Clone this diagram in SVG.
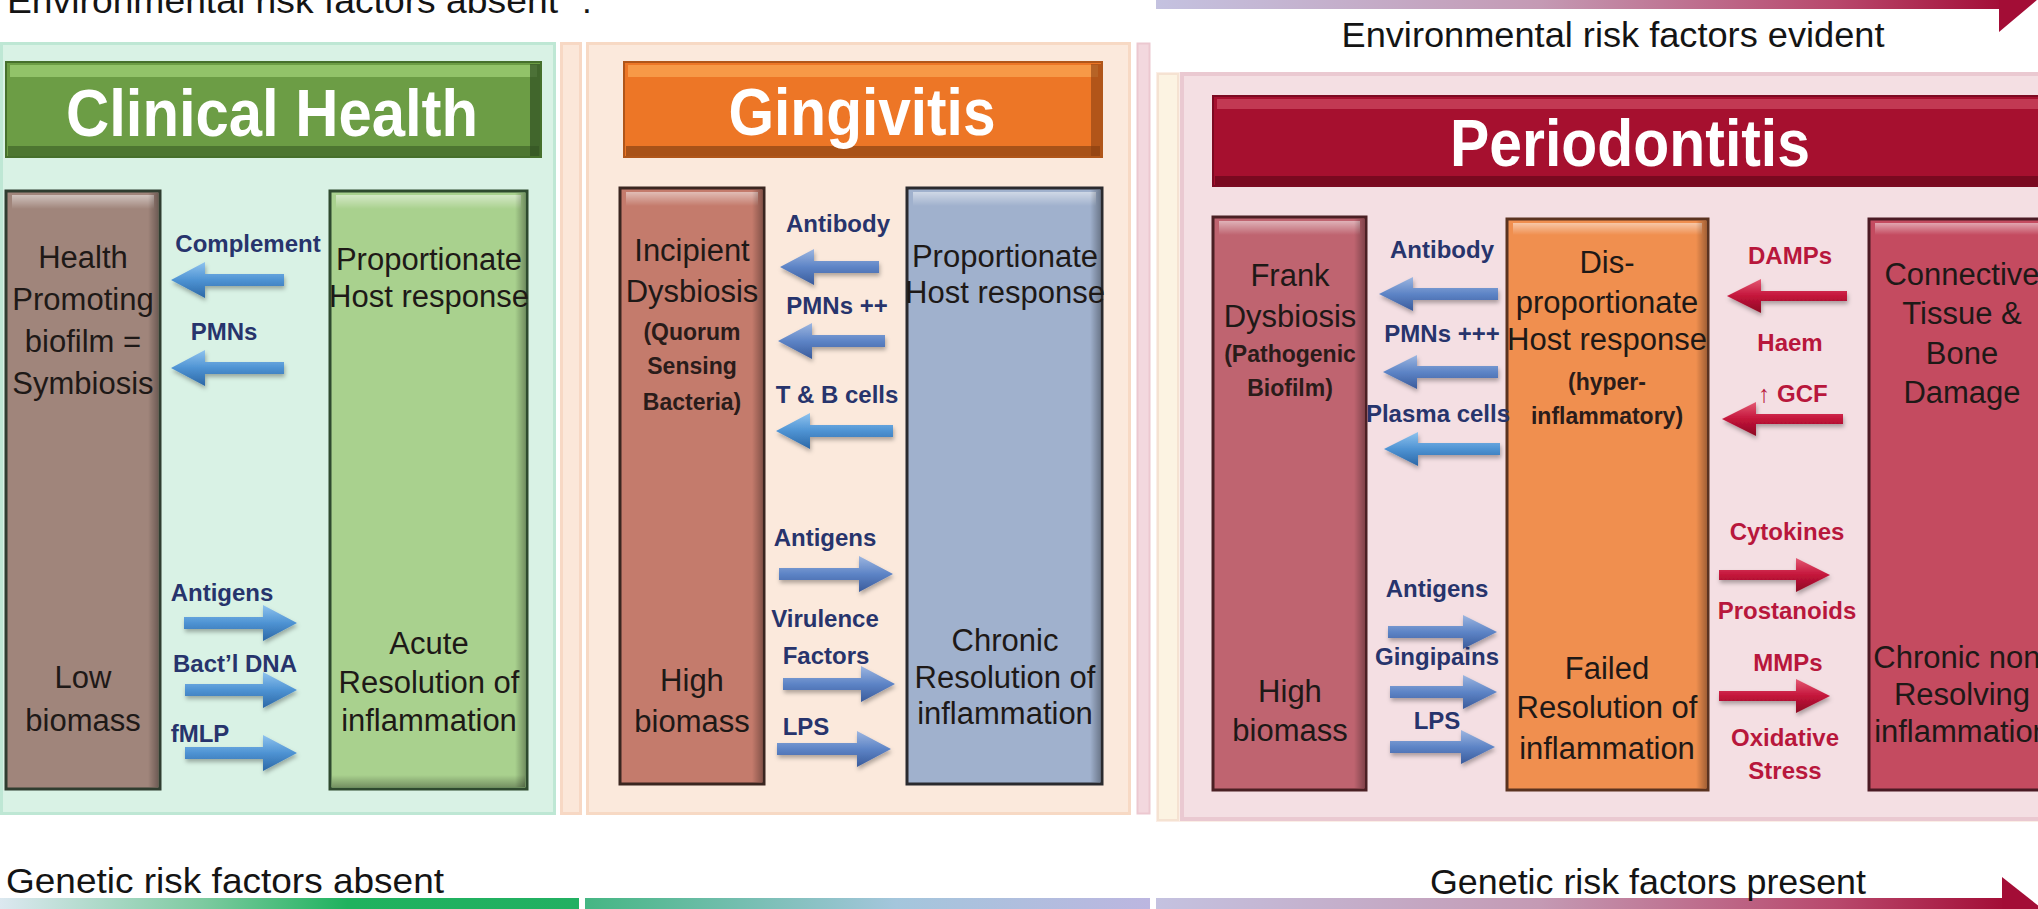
<svg xmlns="http://www.w3.org/2000/svg" width="2038" height="909" viewBox="0 0 2038 909">
<defs>
<linearGradient id="hiTop" x1="0" y1="0" x2="0" y2="1"><stop offset="0" stop-color="#fff" stop-opacity="0.5"/><stop offset="1" stop-color="#fff" stop-opacity="0"/></linearGradient>
<linearGradient id="shR" x1="0" y1="0" x2="1" y2="0"><stop offset="0" stop-color="#000" stop-opacity="0"/><stop offset="1" stop-color="#000" stop-opacity="0.3"/></linearGradient>
<linearGradient id="shB" x1="0" y1="0" x2="0" y2="1"><stop offset="0" stop-color="#000" stop-opacity="0"/><stop offset="1" stop-color="#000" stop-opacity="0.3"/></linearGradient>
<linearGradient id="blue1" x1="0" y1="0" x2="0" y2="1"><stop offset="0" stop-color="#8fc3ee"/><stop offset="0.5" stop-color="#4e93d3"/><stop offset="1" stop-color="#2c67a6"/></linearGradient>
<linearGradient id="blue2" x1="0" y1="0" x2="0" y2="1"><stop offset="0" stop-color="#9db6e0"/><stop offset="0.5" stop-color="#5d84c6"/><stop offset="1" stop-color="#3a5b9b"/></linearGradient>
<linearGradient id="red1" x1="0" y1="0" x2="0" y2="1"><stop offset="0" stop-color="#e45a74"/><stop offset="0.5" stop-color="#c4143a"/><stop offset="1" stop-color="#8c0a24"/></linearGradient>
<linearGradient id="barL" x1="0" y1="0" x2="1" y2="0"><stop offset="0" stop-color="#dce8f0"/><stop offset="0.35" stop-color="#7dcaa0"/><stop offset="0.6" stop-color="#1fb25e"/><stop offset="1" stop-color="#22b062"/></linearGradient>
<linearGradient id="barM" x1="0" y1="0" x2="1" y2="0"><stop offset="0" stop-color="#45b683"/><stop offset="0.55" stop-color="#a4c6dc"/><stop offset="1" stop-color="#bcb6e0"/></linearGradient>
<linearGradient id="barR" x1="0" y1="0" x2="1" y2="0"><stop offset="0" stop-color="#c4c2e0"/><stop offset="0.45" stop-color="#c49ab4"/><stop offset="0.8" stop-color="#b8486c"/><stop offset="1" stop-color="#a30d36"/></linearGradient>
<filter id="sh" x="-10%" y="-30%" width="130%" height="180%"><feDropShadow dx="1" dy="3" stdDeviation="2" flood-color="#000" flood-opacity="0.3"/></filter>
</defs>
<style>
text { font-family: "Liberation Sans", Arial, sans-serif; }
.hdr { font-weight: bold; fill: #ffffff; font-size: 66px; text-anchor: middle; }
.bx { font-size: 31px; fill: #1e1917; text-anchor: middle; }
.sub { font-size: 23px; font-weight: bold; fill: #2a1c1a; text-anchor: middle; }
.lb { font-size: 24px; font-weight: bold; fill: #27346c; text-anchor: middle; }
.lr { font-size: 24px; font-weight: bold; fill: #b8173c; text-anchor: middle; }
.side { font-size: 35px; fill: #141414; }
.a1 { fill: url(#blue1); filter: url(#sh); }
.a2 { fill: url(#blue2); filter: url(#sh); }
.ar { fill: url(#red1); filter: url(#sh); }
.hi { fill: url(#hiTop); }
.sr { fill: url(#shR); }
.sb { fill: url(#shB); }
</style>
<rect width="2038" height="909" fill="#ffffff"/>

<g id="backgrounds">
  <rect x="1.5" y="43.5" width="553" height="770" fill="#d9f2e5" stroke="#bee7d4" stroke-width="3"/>
  <rect x="561.5" y="43.5" width="19" height="770" fill="#fbe7d9" stroke="#f7d8c4" stroke-width="3"/>
  <rect x="587.5" y="43.5" width="542" height="770" fill="#fbe9dc" stroke="#f7d9c4" stroke-width="3"/>
  <rect x="1137.5" y="43.5" width="12" height="770" fill="#f3d8de" stroke="#ecc8d0" stroke-width="2"/>
  <rect x="1156" y="72" width="890" height="750" fill="#fbeee6"/>
  <rect x="1158" y="74" width="20" height="746" fill="#fcf3e2" stroke="#f5e2d2" stroke-width="2"/>
  <rect x="1182" y="74" width="870" height="745" fill="#f4dfe3" stroke="#eac9d1" stroke-width="4"/>
</g>

<g id="risk-bars">
  <rect x="0" y="898" width="579" height="11" fill="url(#barL)"/>
  <rect x="585" y="898" width="565" height="11" fill="url(#barM)"/>
  <rect x="1156" y="898" width="850" height="11" fill="url(#barR)"/>
  <polygon points="2002,877 2050,915 2002,953" fill="#a30d36"/>
  <rect x="1156" y="-10" width="850" height="19" fill="url(#barR)"/>
  <polygon points="1999,-44 2044,-6 1999,32" fill="#a30d36"/>
  <text class="side" x="7" y="13" textLength="551" lengthAdjust="spacingAndGlyphs">Environmental risk factors absent</text>
  <text class="side" x="582" y="13">.</text>
  <text class="side" x="1613" y="47" font-size="33" text-anchor="middle" textLength="543" lengthAdjust="spacingAndGlyphs">Environmental risk factors evident</text>
  <text class="side" x="6" y="893" textLength="438" lengthAdjust="spacingAndGlyphs">Genetic risk factors absent</text>
  <text class="side" x="1648" y="894" font-size="33" text-anchor="middle" textLength="436" lengthAdjust="spacingAndGlyphs">Genetic risk factors present</text>
</g>

<g id="header-clinical-health">
  <rect x="6" y="62" width="535" height="95" fill="#6c9d45" stroke="#46702c" stroke-width="2"/>
  <rect x="10" y="65" width="527" height="12" fill="#9ccd72" opacity="0.8"/>
  <rect x="8" y="146" width="531" height="10" fill="#4d7631"/>
  <rect x="530" y="64" width="10" height="92" fill="#2f4f22" opacity="0.7"/>
  <text class="hdr" x="272" y="136" textLength="412" lengthAdjust="spacingAndGlyphs">Clinical Health</text>
</g>

<g id="header-gingivitis">
  <rect x="624" y="62" width="478" height="95" fill="#ed7626" stroke="#b0561a" stroke-width="2"/>
  <rect x="628" y="65" width="470" height="12" fill="#f8a04e" opacity="0.85"/>
  <rect x="626" y="146" width="474" height="10" fill="#a85218"/>
  <rect x="1091" y="64" width="10" height="92" fill="#8a4010" opacity="0.6"/>
  <text class="hdr" x="862" y="135" font-size="64" textLength="267" lengthAdjust="spacingAndGlyphs">Gingivitis</text>
</g>

<g id="header-periodontitis">
  <rect x="1213" y="96" width="840" height="90" fill="#a6102f" stroke="#7c0a22" stroke-width="2"/>
  <rect x="1217" y="99" width="830" height="10" fill="#c9435c" opacity="0.8"/>
  <rect x="1215" y="176" width="834" height="9" fill="#7a0920"/>
  <text class="hdr" x="1630" y="166" textLength="360" lengthAdjust="spacingAndGlyphs">Periodontitis</text>
</g>

<g id="node-health-biofilm">
  <rect x="6" y="191" width="154" height="598" fill="#a0857b" stroke="#2f3d30" stroke-width="3"/>
  <rect x="12" y="195" width="142" height="14" class="hi"/>
  <rect x="148" y="193" width="10" height="594" class="sr"/>
  <text class="bx" x="83" y="268">Health</text>
  <text class="bx" x="83" y="310">Promoting</text>
  <text class="bx" x="83" y="352">biofilm =</text>
  <text class="bx" x="83" y="394">Symbiosis</text>
  <text class="bx" x="83" y="688">Low</text>
  <text class="bx" x="83" y="731">biomass</text>
</g>

<g id="node-proportionate-health">
  <rect x="330" y="191" width="197" height="598" fill="#a9d18e" stroke="#2f4a2f" stroke-width="3"/>
  <rect x="336" y="195" width="185" height="14" class="hi"/>
  <rect x="515" y="193" width="10" height="594" class="sr"/>
  <rect x="332" y="775" width="193" height="12" class="sb"/>
  <text class="bx" x="429" y="270">Proportionate</text>
  <text class="bx" x="429" y="307">Host response</text>
  <text class="bx" x="429" y="654">Acute</text>
  <text class="bx" x="429" y="693">Resolution of</text>
  <text class="bx" x="429" y="731">inflammation</text>
</g>

<g id="node-incipient-dysbiosis">
  <rect x="620" y="188" width="144" height="596" fill="#c47b6c" stroke="#3a2620" stroke-width="3"/>
  <rect x="626" y="192" width="132" height="14" class="hi"/>
  <rect x="752" y="190" width="10" height="592" class="sr"/>
  <text class="bx" x="692" y="261">Incipient</text>
  <text class="bx" x="692" y="302">Dysbiosis</text>
  <text class="sub" x="692" y="340">(Quorum</text>
  <text class="sub" x="692" y="374">Sensing</text>
  <text class="sub" x="692" y="410">Bacteria)</text>
  <text class="bx" x="692" y="691">High</text>
  <text class="bx" x="692" y="732">biomass</text>
</g>

<g id="node-proportionate-gingivitis">
  <rect x="907" y="188" width="195" height="596" fill="#a0b1cd" stroke="#2a2a2e" stroke-width="3"/>
  <rect x="913" y="192" width="183" height="14" class="hi"/>
  <rect x="1090" y="190" width="10" height="592" class="sr"/>
  <text class="bx" x="1005" y="267">Proportionate</text>
  <text class="bx" x="1005" y="303">Host response</text>
  <text class="bx" x="1005" y="651">Chronic</text>
  <text class="bx" x="1005" y="688">Resolution of</text>
  <text class="bx" x="1005" y="724">inflammation</text>
</g>

<g id="node-frank-dysbiosis">
  <rect x="1213" y="217" width="153" height="573" fill="#bf6470" stroke="#4a2024" stroke-width="3"/>
  <rect x="1219" y="221" width="141" height="14" class="hi"/>
  <rect x="1354" y="219" width="10" height="569" class="sr"/>
  <text class="bx" x="1290" y="286">Frank</text>
  <text class="bx" x="1290" y="327">Dysbiosis</text>
  <text class="sub" x="1290" y="362">(Pathogenic</text>
  <text class="sub" x="1290" y="396">Biofilm)</text>
  <text class="bx" x="1290" y="702">High</text>
  <text class="bx" x="1290" y="741">biomass</text>
</g>

<g id="node-disproportionate">
  <rect x="1507" y="219" width="201" height="571" fill="#f08f4f" stroke="#5a3320" stroke-width="3"/>
  <rect x="1513" y="223" width="189" height="12" class="hi"/>
  <rect x="1696" y="221" width="10" height="567" class="sr"/>
  <text class="bx" x="1607" y="273">Dis-</text>
  <text class="bx" x="1607" y="313">proportionate</text>
  <text class="bx" x="1607" y="350">Host response</text>
  <text class="sub" x="1607" y="390">(hyper-</text>
  <text class="sub" x="1607" y="424">inflammatory)</text>
  <text class="bx" x="1607" y="679">Failed</text>
  <text class="bx" x="1607" y="718">Resolution of</text>
  <text class="bx" x="1607" y="759">inflammation</text>
</g>

<g id="node-tissue-damage">
  <rect x="1869" y="219" width="185" height="571" fill="#c44b60" stroke="#4a1a24" stroke-width="3"/>
  <rect x="1875" y="223" width="175" height="12" class="hi"/>
  <text class="bx" x="1962" y="285">Connective</text>
  <text class="bx" x="1962" y="324">Tissue &amp;</text>
  <text class="bx" x="1962" y="364">Bone</text>
  <text class="bx" x="1962" y="403">Damage</text>
  <text class="bx" x="1962" y="668">Chronic non-</text>
  <text class="bx" x="1962" y="705">Resolving</text>
  <text class="bx" x="1962" y="742">inflammation</text>
</g>

<g id="connectors">
  <path class="a1" d="M171 280 L205 262 L205 274 L284 274 L284 286 L205 286 L205 298 Z"/>
  <path class="a1" d="M171 368 L205 350 L205 362 L284 362 L284 374 L205 374 L205 386 Z"/>
  <path class="a1" d="M297 623 L263 605 L263 617 L184 617 L184 629 L263 629 L263 641 Z"/>
  <path class="a1" d="M297 690 L263 672 L263 684 L185 684 L185 696 L263 696 L263 708 Z"/>
  <path class="a1" d="M297 753 L263 735 L263 747 L185 747 L185 759 L263 759 L263 771 Z"/>

  <path class="a2" d="M780 267 L814 249 L814 261 L879 261 L879 273 L814 273 L814 285 Z"/>
  <path class="a2" d="M778 341 L812 323 L812 335 L885 335 L885 347 L812 347 L812 359 Z"/>
  <path class="a1" d="M776 431 L810 413 L810 425 L893 425 L893 437 L810 437 L810 449 Z"/>
  <path class="a2" d="M893 574 L859 556 L859 568 L779 568 L779 580 L859 580 L859 592 Z"/>
  <path class="a2" d="M895 684 L861 666 L861 678 L783 678 L783 690 L861 690 L861 702 Z"/>
  <path class="a2" d="M891 749 L857 731 L857 743 L777 743 L777 755 L857 755 L857 767 Z"/>

  <path class="a2" d="M1379 294 L1413 277 L1413 288 L1498 288 L1498 300 L1413 300 L1413 311 Z"/>
  <path class="a2" d="M1383 372 L1417 355 L1417 366 L1498 366 L1498 378 L1417 378 L1417 389 Z"/>
  <path class="a1" d="M1384 449 L1418 432 L1418 443 L1500 443 L1500 455 L1418 455 L1418 466 Z"/>
  <path class="a2" d="M1497 632 L1463 615 L1463 626 L1388 626 L1388 638 L1463 638 L1463 649 Z"/>
  <path class="a2" d="M1497 692 L1463 675 L1463 686 L1390 686 L1390 698 L1463 698 L1463 709 Z"/>
  <path class="a2" d="M1495 747 L1461 730 L1461 741 L1390 741 L1390 753 L1461 753 L1461 764 Z"/>

  <path class="ar" d="M1727 296 L1761 279 L1761 291 L1847 291 L1847 301 L1761 301 L1761 313 Z"/>
  <path class="ar" d="M1722 419 L1756 402 L1756 414 L1843 414 L1843 424 L1756 424 L1756 436 Z"/>
  <path class="ar" d="M1830 575 L1796 558 L1796 570 L1719 570 L1719 580 L1796 580 L1796 592 Z"/>
  <path class="ar" d="M1830 696 L1796 679 L1796 691 L1719 691 L1719 701 L1796 701 L1796 713 Z"/>

  <text class="lb" x="248" y="252">Complement</text>
  <text class="lb" x="224" y="340">PMNs</text>
  <text class="lb" x="222" y="601">Antigens</text>
  <text class="lb" x="235" y="672">Bact’l DNA</text>
  <text class="lb" x="200" y="742">fMLP</text>

  <text class="lb" x="838" y="232">Antibody</text>
  <text class="lb" x="837" y="314">PMNs ++</text>
  <text class="lb" x="837" y="403">T &amp; B cells</text>
  <text class="lb" x="825" y="546">Antigens</text>
  <text class="lb" x="825" y="627">Virulence</text>
  <text class="lb" x="826" y="664">Factors</text>
  <text class="lb" x="806" y="735">LPS</text>

  <text class="lb" x="1442" y="258">Antibody</text>
  <text class="lb" x="1442" y="342">PMNs +++</text>
  <text class="lb" x="1438" y="422">Plasma cells</text>
  <text class="lb" x="1437" y="597">Antigens</text>
  <text class="lb" x="1437" y="665">Gingipains</text>
  <text class="lb" x="1437" y="729">LPS</text>

  <text class="lr" x="1790" y="264">DAMPs</text>
  <text class="lr" x="1790" y="351">Haem</text>
  <text class="lr" x="1793" y="402">↑ GCF</text>
  <text class="lr" x="1787" y="540">Cytokines</text>
  <text class="lr" x="1787" y="619">Prostanoids</text>
  <text class="lr" x="1788" y="671">MMPs</text>
  <text class="lr" x="1785" y="746">Oxidative</text>
  <text class="lr" x="1785" y="779">Stress</text>
</g>
</svg>
